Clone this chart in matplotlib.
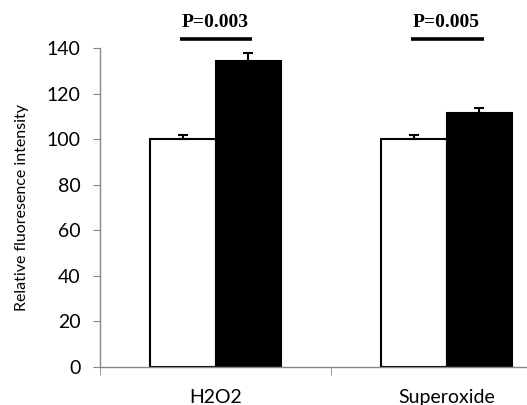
import numpy as np
import matplotlib.pyplot as plt

# data
categories = ["H2O2", "Superoxide"]
control = [100, 100]
control_err = [2.0, 2.0]
treated = [134.5, 111.5]
treated_err = [3.5, 2.3]
p_labels = ["P=0.003", "P=0.005"]

x = np.arange(len(categories))
w = 0.285

fig = plt.figure(figsize=(5.27, 4.05), dpi=100)
# axes runs past the right edge, like the cropped original
ax = fig.add_axes([0.1898, 0.0938, 0.8767, 0.7877])

ax.bar(x - w / 2, control, w, color="white", edgecolor="black", linewidth=1.5,
       yerr=[np.zeros(2), control_err], error_kw=dict(ecolor="black", elinewidth=1.5, capsize=3.5, capthick=1.5))
ax.bar(x + w / 2, treated, w, color="black", edgecolor="black", linewidth=1.5,
       yerr=[np.zeros(2), treated_err], error_kw=dict(ecolor="black", elinewidth=1.5, capsize=3.5, capthick=1.5))

ax.set_xlim(-0.5, 1.5)
ax.set_ylim(0, 140)
ax.set_yticks(np.arange(0, 141, 20))

# significance bars
for i, lab in enumerate(p_labels):
    ax.plot([x[i] - 0.155, x[i] + 0.16], [143.9, 143.9], color="black", lw=2.6,
            clip_on=False, solid_capstyle="butt")
    ax.text(x[i], 151.3, lab, ha="center", va="center", fontsize=14,
            fontweight="bold", family="Liberation Serif")

for s in ["top", "right"]:
    ax.spines[s].set_visible(False)
for s in ["left", "bottom"]:
    ax.spines[s].set_color("#888888")
    ax.spines[s].set_linewidth(1.0)

ax.set_xticks(x)
ax.set_xticklabels(categories, fontsize=14, family="Lato")
ax.tick_params(axis="x", which="major", length=0, pad=16)
ax.set_xticks([-0.5, 0.5, 1.5], minor=True)
ax.tick_params(axis="x", which="minor", length=6, color="#888888", direction="out")
ax.tick_params(axis="y", length=5, color="#888888", labelsize=14, pad=9)
for t in ax.get_yticklabels():
    t.set_family("Lato")

ax.set_ylabel("Relative fluoresence intensity", fontsize=11.5, family="Lato", labelpad=13)

fig.savefig("out.png", dpi=100)
